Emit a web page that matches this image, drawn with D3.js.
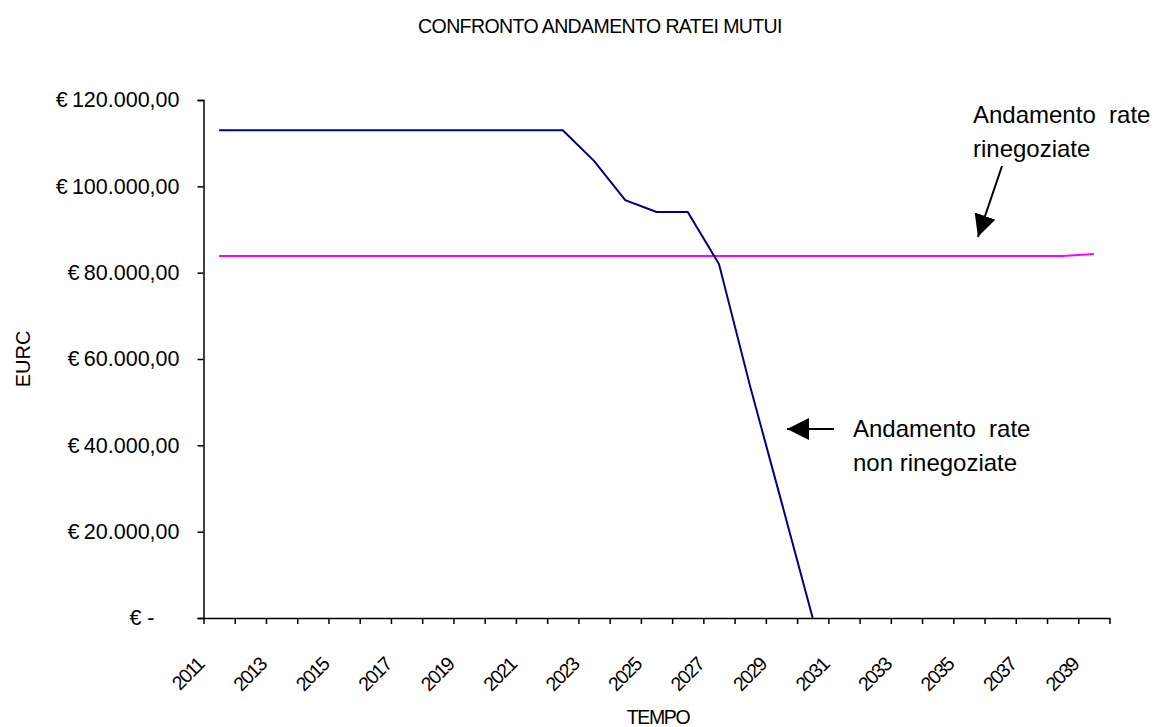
<!DOCTYPE html>
<html>
<head>
<meta charset="utf-8">
<script src="https://cdn.jsdelivr.net/npm/d3@7"></script>
<style>
  body { margin: 0; background: #fff; }
  text { font-family: "Liberation Sans", Arial, sans-serif; fill: #000; }
</style>
</head>
<body>
<svg></svg>
<script>
// years on the category axis
const years = d3.range(2011, 2040);
// rate non rinegoziate (blue), ends at zero in 2030
const rateNonRinegoziate = [113000, 113000, 113000, 113000, 113000, 113000, 113000, 113000, 113000, 113000, 113000, 113000,
    105900, 96800, 94050, 94050, 82000, 53600, 26900, 0];
// rate rinegoziate (magenta)
const rateRinegoziate = [83860, 83860, 83860, 83860, 83860, 83860, 83860, 83860, 83860, 83860, 83860, 83860, 83860, 83860, 83860,
    83860, 83860, 83860, 83860, 83860, 83860, 83860, 83860, 83860, 83860, 83860, 83860, 83860, 84320];
const yTicks = [0, 20000, 40000, 60000, 80000, 100000, 120000];
const labelYears = years.filter((d, i) => i % 2 === 0);

const size = {w: 1164, h: 727};
const plot = {l: 203.5, r: 1109.5, t: 100, b: 618};

const svg = d3.select('svg')
    .attr('width', size.w)
    .attr('height', size.h);

// italian money format
const it = d3.formatLocale({decimal: ',', thousands: '.', grouping: [3], currency: ['€', '']});
const fmt = it.format(',.2f');

// x is linear in years, each category centred on its year
const x = d3.scaleLinear()
    .domain([years[0] - 0.5, years[years.length - 1] + 0.5])
    .range([plot.l, plot.r]);
const y = d3.scaleLinear()
    .domain([0, 120000])
    .range([plot.b, plot.t]);

// y axis
const yAxis = svg.append('g')
    .attr('transform', 'translate(' + plot.l + ',0)')
    .call(d3.axisLeft(y).tickValues(yTicks).tickSize(6).tickPadding(18)
        .tickFormat(d => d === 0 ? '€ -' : '€\u2009' + fmt(d)));
yAxis.select('.domain').attr('stroke', '#000').attr('stroke-width', 1.5);
yAxis.selectAll('.tick line').attr('stroke', '#000').attr('stroke-width', 1.5);
yAxis.selectAll('.tick text')
    .style('font-size', '21.5px')
    .attr('dx', d => d === 0 ? -25 : 0);

// x axis, ticks between categories
const xAxis = svg.append('g')
    .attr('transform', 'translate(0,' + plot.b + ')')
    .call(d3.axisBottom(x).tickValues(d3.range(years[0] - 0.5, years[years.length - 1] + 1, 1))
        .tickSize(6).tickSizeOuter(0).tickFormat(''));
xAxis.select('.domain').attr('stroke', '#000').attr('stroke-width', 1.5);
xAxis.selectAll('.tick line').attr('stroke', '#000').attr('stroke-width', 1.5);

// rotated year labels, every other year
svg.append('g').selectAll('text')
    .data(labelYears)
    .enter()
    .append('text')
    .attr('transform', d => 'translate(' + (x(d) - 14) + ',' + (plot.b + 48) + ') rotate(-45)')
    .attr('text-anchor', 'end')
    .style('font-size', '19.5px')
    .style('letter-spacing', '-1.6px')
    .text(d => d);

// lines
const line = d3.line()
    .x(d => x(d[0]))
    .y(d => y(d[1]));

svg.append('path')
    .datum(years.map((d, i) => [d, rateRinegoziate[i]]))
    .attr('fill', 'none')
    .attr('stroke', '#ff00ff')
    .attr('stroke-width', 2)
    .attr('d', line);

svg.append('path')
    .datum(rateNonRinegoziate.map((v, i) => [years[i], v]))
    .attr('fill', 'none')
    .attr('stroke', '#000080')
    .attr('stroke-width', 2)
    .attr('d', line);

// titles
svg.append('text')
    .attr('x', 600).attr('y', 33)
    .attr('text-anchor', 'middle')
    .style('font-size', '19.5px')
    .style('letter-spacing', '-0.6px')
    .text('CONFRONTO ANDAMENTO RATEI MUTUI');

svg.append('text')
    .attr('x', 658).attr('y', 724)
    .attr('text-anchor', 'middle')
    .style('font-size', '19.5px')
    .style('letter-spacing', '-1.4px')
    .text('TEMPO');

svg.append('text')
    .attr('transform', 'translate(30,' + ((plot.t + plot.b) / 2) + ') rotate(-90)')
    .attr('text-anchor', 'middle')
    .style('font-size', '20px')
    .text('EURC');

// annotations with arrows
svg.append('defs').append('marker')
    .attr('id', 'head')
    .attr('viewBox', '0 0 10 10')
    .attr('refX', 10).attr('refY', 5)
    .attr('markerUnits', 'userSpaceOnUse')
    .attr('markerWidth', 22).attr('markerHeight', 22)
    .attr('orient', 'auto')
    .append('path')
    .attr('d', 'M0,0 L10,5 L0,10 Z')
    .attr('fill', '#000');

const notes = [
    {lines: ['Andamento  rate', 'rinegoziate'], tx: 2035.13, ty: 123,
        from: [2036.06, 104700], to: [2035.29, 88300]},
    {lines: ['Andamento  rate', 'non rinegoziate'], tx: 2031.29, ty: 437,
        from: [2030.68, 43800], to: [2029.18, 43800]}
];

notes.forEach(n => {
    const t = svg.append('text')
        .attr('x', x(n.tx)).attr('y', n.ty)
        .style('font-size', '24px')
        .style('white-space', 'pre');
    n.lines.forEach((s, i) => {
        t.append('tspan')
            .attr('x', x(n.tx))
            .attr('dy', i === 0 ? 0 : 34)
            .text(s);
    });
    svg.append('line')
        .attr('x1', x(n.from[0])).attr('y1', y(n.from[1]))
        .attr('x2', x(n.to[0])).attr('y2', y(n.to[1]))
        .attr('stroke', '#000')
        .attr('stroke-width', 2)
        .attr('marker-end', 'url(#head)');
});
</script>
</body>
</html>
